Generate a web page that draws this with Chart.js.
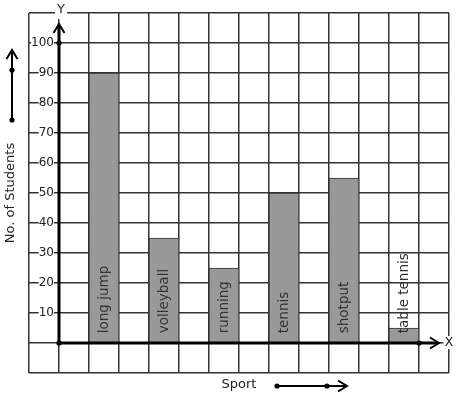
<!DOCTYPE html>
<html>
<head>
<meta charset="utf-8">
<script src="https://cdn.jsdelivr.net/npm/chart.js@4/dist/chart.umd.min.js"></script>
<style>
  html, body { margin: 0; padding: 0; background: #fff; }
  #wrap { width: 457px; height: 399px; }
</style>
</head>
<body>
<div id="wrap"><canvas id="sportChart"></canvas></div>
<script>
const sports = ['long jump', 'volleyball', 'running', 'tennis', 'shotput', 'table tennis'];
const students = [90, 35, 25, 50, 55, 5];
const barPositions = [1.5, 3.5, 5.5, 7.5, 9.5, 11.5];
const yTickValues = [10, 20, 30, 40, 50, 60, 70, 80, 90, 100];

Chart.defaults.font.family = '"DejaVu Sans", sans-serif';
Chart.defaults.color = '#222';

function dot(ctx, px, py) {
  ctx.beginPath();
  ctx.arc(px, py, 2.6, 0, Math.PI * 2);
  ctx.fill();
}

function arrowHead(ctx, tx, ty, dir) {
  // dir: 'up' or 'right', open V head
  ctx.beginPath();
  if (dir === 'up') {
    ctx.moveTo(tx - 5.5, ty + 9);
    ctx.lineTo(tx, ty);
    ctx.lineTo(tx + 5.5, ty + 9);
  } else {
    ctx.moveTo(tx - 9, ty - 5.5);
    ctx.lineTo(tx, ty);
    ctx.lineTo(tx - 9, ty + 5.5);
  }
  ctx.stroke();
}

// axes with arrows, dots, bar names and side titles
const graphPaper = {
  id: 'graphPaper',
  afterDraw(chart) {
    const { ctx, chartArea: a, scales: { x, y } } = chart;
    const x0 = x.getPixelForValue(0);
    const y0 = y.getPixelForValue(0);
    ctx.save();
    ctx.strokeStyle = '#000';
    ctx.fillStyle = '#000';
    ctx.lineCap = 'butt';

    // X axis
    const xTip = a.right - 10;
    ctx.lineWidth = 3;
    ctx.beginPath();
    ctx.moveTo(x0, y0);
    ctx.lineTo(xTip - 1, y0);
    ctx.stroke();
    ctx.lineWidth = 2;
    arrowHead(ctx, xTip, y0, 'right');

    // Y axis
    const yTip = a.top + 11;
    ctx.lineWidth = 3;
    ctx.beginPath();
    ctx.moveTo(x0, y0);
    ctx.lineTo(x0, yTip + 1);
    ctx.stroke();
    ctx.lineWidth = 2;
    arrowHead(ctx, x0, yTip, 'up');

    dot(ctx, x0, y0);
    dot(ctx, x0, y.getPixelForValue(100));
    dot(ctx, x.getPixelForValue(12), y0);

    // axis letters
    ctx.font = '13px "DejaVu Sans"';
    ctx.textAlign = 'center';
    ctx.textBaseline = 'middle';
    let w = ctx.measureText('Y').width;
    ctx.fillStyle = '#fff';
    ctx.fillRect(x0 + 2 - w / 2 - 2, a.top - 6, w + 4, 12);
    ctx.fillStyle = '#222';
    ctx.fillText('Y', x0 + 2, a.top - 3);
    w = ctx.measureText('X').width;
    ctx.fillStyle = '#fff';
    ctx.fillRect(a.right - w / 2 - 1, y0 - 7, w + 2, 13);
    ctx.fillStyle = '#222';
    ctx.fillText('X', a.right, y0);

    // bar names
    const meta = chart.getDatasetMeta(0);
    ctx.font = '13.5px "DejaVu Sans"';
    ctx.fillStyle = '#333';
    ctx.textAlign = 'left';
    ctx.textBaseline = 'middle';
    meta.data.forEach((bar, i) => {
      ctx.save();
      ctx.translate(bar.x, bar.base - 9);
      ctx.rotate(-Math.PI / 2);
      ctx.fillText(sports[i], 0, 0);
      ctx.restore();
    });

    // y title with arrow
    const cy = (a.top + a.bottom) / 2;
    ctx.font = '13px "DejaVu Sans"';
    ctx.fillStyle = '#222';
    ctx.textAlign = 'center';
    ctx.save();
    ctx.translate(a.left - 18, cy);
    ctx.rotate(-Math.PI / 2);
    ctx.fillText('No. of Students', 0, 0);
    ctx.restore();

    const lx = a.left - 17;
    ctx.fillStyle = '#000';
    ctx.lineWidth = 2;
    ctx.beginPath();
    ctx.moveTo(lx, a.top + 107);
    ctx.lineTo(lx, a.top + 38);
    ctx.stroke();
    arrowHead(ctx, lx, a.top + 37, 'up');
    dot(ctx, lx, a.top + 57);
    dot(ctx, lx, a.top + 107);

    // x title with arrow
    const cx = (a.left + a.right) / 2;
    const by = a.bottom + 13;
    ctx.fillStyle = '#222';
    ctx.fillText('Sport', cx, by - 1);
    ctx.fillStyle = '#000';
    ctx.beginPath();
    ctx.moveTo(cx + 38, by);
    ctx.lineTo(cx + 107, by);
    ctx.stroke();
    arrowHead(ctx, cx + 108, by, 'right');
    dot(ctx, cx + 38, by);
    dot(ctx, cx + 88, by);

    ctx.restore();
  }
};

new Chart(document.getElementById('sportChart'), {
  type: 'bar',
  data: {
    datasets: [{
      data: barPositions.map((p, i) => ({ x: p, y: students[i] })),
      backgroundColor: '#999999',
      borderColor: '#333',
      borderWidth: 1,
      borderSkipped: 'bottom',
      barThickness: 30
    }]
  },
  options: {
    responsive: true,
    maintainAspectRatio: false,
    animation: false,
    layout: { padding: { left: 29, top: 13, right: 8, bottom: 26 } },
    plugins: {
      legend: { display: false },
      tooltip: { enabled: false }
    },
    scales: {
      x: {
        type: 'linear',
        position: { y: 0 },
        offset: false,
        min: -1,
        max: 13,
        ticks: { display: false, stepSize: 1 },
        grid: { color: '#333', lineWidth: 1.5, drawTicks: false, offset: false },
        border: { display: false }
      },
      y: {
        type: 'linear',
        // labels sit just left of the Y axis line
        position: { x: -0.17 },
        min: -10,
        max: 110,
        ticks: {
          stepSize: 10,
          padding: 0,
          font: { size: 12 },
          color: '#222',
          showLabelBackdrop: true,
          backdropColor: '#fff',
          backdropPadding: { top: 2, bottom: 2, left: 0, right: 0 },
          callback: v => yTickValues.includes(v) ? String(v) : ''
        },
        grid: { color: '#333', lineWidth: 1.5, drawTicks: false },
        border: { display: false }
      }
    }
  },
  plugins: [graphPaper]
});
</script>
</body>
</html>
